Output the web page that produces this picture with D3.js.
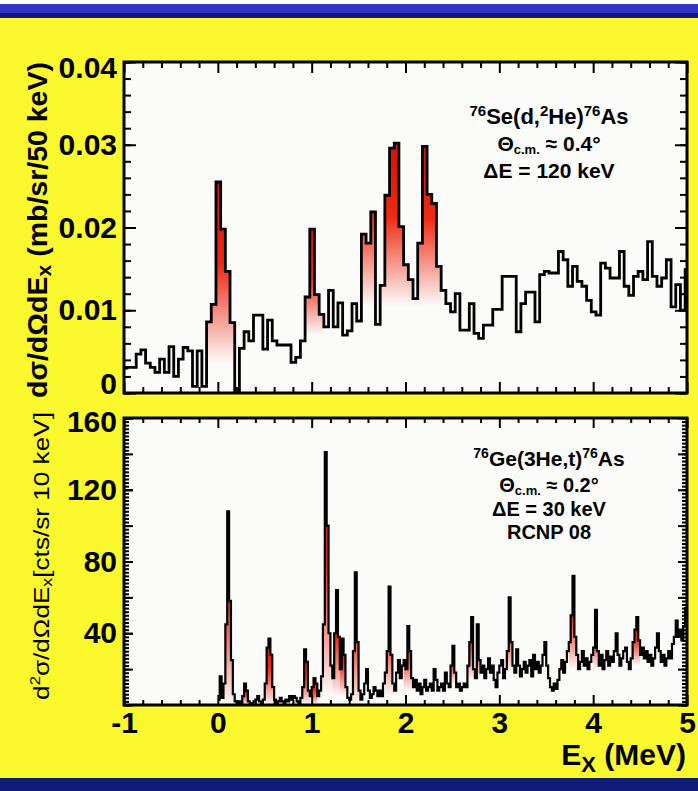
<!DOCTYPE html>
<html>
<head>
<meta charset="utf-8">
<script src="https://cdn.jsdelivr.net/npm/d3@7"></script>
<style>
  body { margin: 0; background: #fff; }
  svg text { font-family: "Liberation Sans", Arial, Helvetica, sans-serif; }
</style>
</head>
<body>
<svg id="chart" width="698" height="791"></svg>
<script>
// ---- data ----
// upper panel: 76Se(d,2He)76As, 50 keV bins
var topStart = -1.02, topBin = 0.05;
var topCounts = [
  0.0030, 0.0031, 0.0031, 0.0047, 0.0052, 0.0036, 0.0031, 0.0025, 0.0041, 0.0025,
  0.0056, 0.0020, 0.0041, 0.0055, 0.0051, 0.0008, 0.0051, 0.0008, 0.0086, 0.0107,
  0.0255, 0.0198, 0.0147, 0.0085, 0.0000, 0.0054, 0.0074, 0.0063, 0.0094, 0.0094,
  0.0053, 0.0088, 0.0063, 0.0058, 0.0058, 0.0058, 0.0037, 0.0043, 0.0063, 0.0116,
  0.0198, 0.0119, 0.0095, 0.0080, 0.0124, 0.0080, 0.0109, 0.0070, 0.0075, 0.0108,
  0.0087, 0.0192, 0.0181, 0.0219, 0.0083, 0.0130, 0.0239, 0.0296, 0.0302, 0.0201,
  0.0155, 0.0137, 0.0114, 0.0181, 0.0298, 0.0240, 0.0229, 0.0153, 0.0124, 0.0108,
  0.0098, 0.0120, 0.0076, 0.0076, 0.0108, 0.0072, 0.0066, 0.0082, 0.0082, 0.0101,
  0.0101, 0.0141, 0.0141, 0.0141, 0.0074, 0.0108, 0.0122, 0.0122, 0.0086, 0.0143,
  0.0147, 0.0145, 0.0145, 0.0171, 0.0161, 0.0129, 0.0153, 0.0135, 0.0129, 0.0112,
  0.0098, 0.0094, 0.0157, 0.0151, 0.0139, 0.0139, 0.0171, 0.0129, 0.0118, 0.0141,
  0.0147, 0.0137, 0.0183, 0.0141, 0.0129, 0.0139, 0.0161, 0.0104, 0.0131, 0.0100,
  0.0149
];
// lower panel: 76Ge(3He,t)76As, counts per 20 keV
var botStart = 0, botBin = 0.02;
var botCounts = [
  3, 16, 4, 12, 45, 108, 58, 25, 6, 2,
  1, 2, 1, 5, 12, 8, 2, 1, 0, 2,
  3, 5, 2, 1, 3, 12, 32, 37, 28, 10,
  3, 1, 2, 4, 2, 1, 3, 2, 5, 3,
  5, 4, 2, 1, 4, 10, 31, 24, 8, 5,
  10, 15, 12, 5, 8, 16, 45, 141, 100, 40,
  22, 15, 40, 64, 38, 20, 37, 28, 10, 4,
  3, 6, 30, 74, 35, 8, 3, 6, 12, 20,
  8, 4, 6, 10, 8, 5, 8, 5, 12, 18,
  30, 66, 28, 12, 8, 18, 25, 15, 22, 25,
  20, 44, 30, 15, 10, 14, 8, 12, 6, 10,
  14, 8, 10, 12, 8, 20, 14, 8, 10, 12,
  8, 18, 12, 10, 22, 33, 18, 10, 12, 8,
  10, 12, 10, 22, 35, 49, 20, 15, 45, 25,
  18, 22, 15, 20, 26, 18, 22, 14, 10, 18,
  22, 25, 15, 20, 30, 60, 35, 22, 18, 31,
  22, 16, 20, 24, 18, 22, 25, 16, 28, 20,
  24, 18, 22, 28, 35, 22, 15, 10, 8, 12,
  9, 14, 20, 25, 18, 24, 30, 35, 50, 72,
  38, 28, 20, 24, 30, 22, 26, 20, 24, 28,
  32, 53, 30, 22, 28, 20, 25, 30, 22, 27,
  24, 30, 40, 28, 22, 26, 30, 32, 24, 20,
  26, 35, 42, 49, 36, 28, 32, 26, 30, 24,
  28, 22, 26, 32, 40, 30, 24, 28, 22, 26,
  30, 26, 34, 38, 47, 38, 42, 36, 44, 54
];
// shaded peak regions (MeV) and the level where the shading fades out
var topPeaks = [[-0.12, 0.18], [0.93, 1.13], [1.53, 2.13], [2.13, 2.38]];
var topPeakFloor = [0.0035, 0.007, 0.0105, 0.0105];
var botPeaks = [[0.06, 0.18], [0.26, 0.32], [0.50, 0.60], [0.90, 0.98], [1.00, 1.06],
  [1.10, 1.22], [1.22, 1.30], [1.30, 1.38], [1.42, 1.52], [1.78, 1.88], [1.98, 2.08],
  [2.48, 2.54], [2.66, 2.74], [2.74, 2.80], [3.08, 3.16], [3.74, 3.84], [4.00, 4.06], [4.42, 4.50]];
var botPeakFloor = [0, 0, 0, 0, 0, 5, 5, 5, 0, 5, 8, 12, 14, 14, 18, 20, 20, 22];

var xTicks = [-1, 0, 1, 2, 3, 4, 5];
var topYTicks = [0, 0.01, 0.02, 0.03, 0.04];
var botYTicks = [40, 80, 120, 160];

// ---- layout ----
var svg = d3.select("#chart");
var bg = "#fbfbfa";

svg.append("rect").attr("width", 698).attr("height", 791).attr("fill", "#fcf82e");
svg.append("rect").attr("width", 698).attr("height", 4).attr("fill", "#ffffff");
svg.append("rect").attr("y", 4).attr("width", 698).attr("height", 10).attr("fill", "#3434c4");
svg.append("rect").attr("y", 13).attr("width", 698).attr("height", 5).attr("fill", "#15157a");
svg.append("rect").attr("y", 778).attr("width", 698).attr("height", 13).attr("fill", "#101c78");

var x = d3.scaleLinear().domain([-1, 5]).range([124, 687]);
var yTop = d3.scaleLinear().domain([0, 0.04]).range([393, 62]);
var yBot = d3.scaleLinear().domain([0, 160]).range([705, 418]);

var defs = svg.append("defs");

function bins(counts, start, w) {
  var pts = counts.map(function (v, i) { return { x: start + i * w, v: v }; });
  pts.push({ x: start + counts.length * w, v: counts[counts.length - 1] });
  return pts;
}

function panel(id, y, counts, start, w, peaks, floors, strokeW) {
  var x0 = x.range()[0], x1 = x.range()[1];
  var y0 = y.range()[0], y1 = y.range()[1];
  svg.append("rect").attr("x", x0).attr("y", y1).attr("width", x1 - x0).attr("height", y0 - y1)
    .attr("fill", bg);
  defs.append("clipPath").attr("id", id + "clip").append("rect")
    .attr("x", x0).attr("y", y1).attr("width", x1 - x0).attr("height", y0 - y1);

  var g = svg.append("g").attr("clip-path", "url(#" + id + "clip)");

  // shaded peaks
  peaks.forEach(function (p, k) {
    var sub = [];
    counts.forEach(function (v, i) {
      var bx = start + i * w;
      if (bx >= p[0] - 1e-6 && bx < p[1] - 1e-6) sub.push({ x: bx, v: v });
    });
    if (!sub.length) return;
    sub.push({ x: sub[sub.length - 1].x + w, v: sub[sub.length - 1].v });
    var top = d3.max(sub, function (d) { return d.v; });
    var grad = defs.append("linearGradient").attr("id", id + "g" + k)
      .attr("gradientUnits", "userSpaceOnUse")
      .attr("x1", 0).attr("x2", 0).attr("y1", y(top)).attr("y2", y(floors[k]));
    grad.append("stop").attr("offset", 0).attr("stop-color", "#d40f06");
    grad.append("stop").attr("offset", 0.45).attr("stop-color", "#ef2a14");
    grad.append("stop").attr("offset", 1).attr("stop-color", bg);
    var area = d3.area().curve(d3.curveStepAfter)
      .x(function (d) { return x(d.x); })
      .y0(y(0)).y1(function (d) { return y(d.v); });
    g.append("path").datum(sub).attr("d", area).attr("fill", "url(#" + id + "g" + k + ")");
  });

  var line = d3.line().curve(d3.curveStepAfter)
    .x(function (d) { return x(d.x); })
    .y(function (d) { return y(d.v); });
  g.append("path").datum(bins(counts, start, w)).attr("d", line)
    .attr("fill", "none").attr("stroke", "#000").attr("stroke-width", strokeW)
    .attr("stroke-linejoin", "miter");

  svg.append("rect").attr("x", x0).attr("y", y1).attr("width", x1 - x0).attr("height", y0 - y1)
    .attr("fill", "none").attr("stroke", "#000").attr("stroke-width", 3);
}

function ticks(axisFn, scale, values, size, tr, fmt) {
  var g = svg.append("g").attr("transform", tr)
    .call(axisFn(scale).tickValues(values).tickSize(size).tickPadding(7).tickFormat(fmt || ""));
  g.select(".domain").remove();
  g.selectAll("line").attr("stroke", "#000").attr("stroke-width", 2);
  g.attr("font-size", 30).attr("font-weight", "bold")
    .attr("font-family", "'Liberation Sans', Arial, sans-serif");
  return g;
}

panel("top", yTop, topCounts, topStart, topBin, topPeaks, topPeakFloor, 2.8);
panel("bot", yBot, botCounts, botStart, botBin, botPeaks, botPeakFloor, 2.2);

var xMinor = d3.range(0, 31).map(function (i) { return -1 + i * 0.2; })
  .filter(function (v) { return Math.abs(v - Math.round(v)) > 1e-6; });
var topYMinor = d3.range(0, 21).map(function (i) { return i * 0.002; });
var botYMinor = d3.range(0, 81).map(function (i) { return i * 2; });
var botYMajor = d3.range(0, 9).map(function (i) { return i * 20; });

// upper panel axes
ticks(d3.axisBottom, x, xTicks, -11, "translate(0,393)");
ticks(d3.axisBottom, x, xMinor, -6, "translate(0,393)");
ticks(d3.axisTop, x, xTicks, -11, "translate(0,62)");
ticks(d3.axisTop, x, xMinor, -6, "translate(0,62)");
ticks(d3.axisLeft, yTop, topYMinor, -7, "translate(124,0)");
ticks(d3.axisRight, yTop, topYMinor, -7, "translate(687,0)");
var topY = ticks(d3.axisLeft, yTop, topYTicks, -12, "translate(124,0)", function (d) {
  return d === 0 ? "0" : d3.format(".2f")(d);
});
topY.selectAll("text").attr("dy", function (d) {
  return d === 0 ? "0.0em" : d === 0.04 ? "0.52em" : "0.32em";
});
ticks(d3.axisRight, yTop, topYTicks, -12, "translate(687,0)");

// lower panel axes
ticks(d3.axisBottom, x, xTicks, -10, "translate(0,705)", function (d) {
  return String(d);
});
ticks(d3.axisBottom, x, xMinor, -5, "translate(0,705)");
ticks(d3.axisTop, x, xTicks, -10, "translate(0,418)");
ticks(d3.axisTop, x, xMinor, -5, "translate(0,418)");
ticks(d3.axisLeft, yBot, botYMinor, -5, "translate(124,0)");
ticks(d3.axisRight, yBot, botYMinor, -5, "translate(687,0)");
ticks(d3.axisLeft, yBot, botYMajor, -9, "translate(124,0)");
ticks(d3.axisRight, yBot, botYMajor, -9, "translate(687,0)");
var botY = ticks(d3.axisLeft, yBot, botYTicks, -9, "translate(124,0)", function (d) {
  return String(d);
});
botY.selectAll("text").attr("dy", function (d) { return d === 160 ? "0.45em" : "0.32em"; });

// axis titles
function vtitle(cx, cy, len, size, weight, parts) {
  var t = svg.append("text").attr("text-anchor", "middle")
    .attr("font-size", size).attr("font-weight", weight).attr("fill", "#000");
  parts.forEach(function (p) {
    t.append("tspan").attr("font-size", p[1] || size).attr("dy", p[2] || 0).text(p[0]);
  });
  var l = t.node().getComputedTextLength();
  t.attr("transform", "translate(" + cx + "," + cy + ") rotate(-90) scale(" + (len / l) + ",1)");
}
vtitle(47, 230, 336, 27, "bold", [["dσ/dΩdE"], ["x", 20, 4], [" (mb/sr/50 keV)", 27, -4]]);
vtitle(49, 556, 288, 22, "normal", [["d"], ["2", 14, -9], ["σ/dΩdE", 22, 9], ["x", 15, 3], ["[cts/sr 10 keV]", 22, -3]]);

var xt = svg.append("text").attr("x", 686).attr("y", 765).attr("text-anchor", "end")
  .attr("font-size", 30).attr("font-weight", "bold");
xt.append("tspan").text("E");
xt.append("tspan").attr("font-size", 22).attr("dy", 7).text("X");
xt.append("tspan").attr("dy", -7).text(" (MeV)");

// annotations
function label(cx, cy, size, parts) {
  var t = svg.append("text").attr("x", cx).attr("y", cy).attr("text-anchor", "middle")
    .attr("font-size", size).attr("font-weight", "bold");
  parts.forEach(function (p) {
    t.append("tspan").attr("font-size", p[1] || size).attr("dy", p[2] || 0).text(p[0]);
  });
}
label(549, 124, 22, [["76", 15, -8], ["Se(d,", 22, 8], ["2", 15, -8], ["He)", 22, 8], ["76", 15, -8], ["As", 22, 8]]);
label(549, 151, 21, [["Θ"], ["c.m.", 13, 3], [" ≈ 0.4°", 21, -3]]);
label(549, 178, 21, [["ΔE = 120 keV"]]);

label(549, 466, 21, [["76", 14, -8], ["Ge(3He,t)", 21, 8], ["76", 14, -8], ["As", 21, 8]]);
label(549, 492, 20, [["Θ"], ["c.m.", 13, 3], [" ≈ 0.2°", 20, -3]]);
label(549, 516, 20, [["ΔE = 30 keV"]]);
label(549, 539, 20, [["RCNP 08"]]);
</script>
</body>
</html>
